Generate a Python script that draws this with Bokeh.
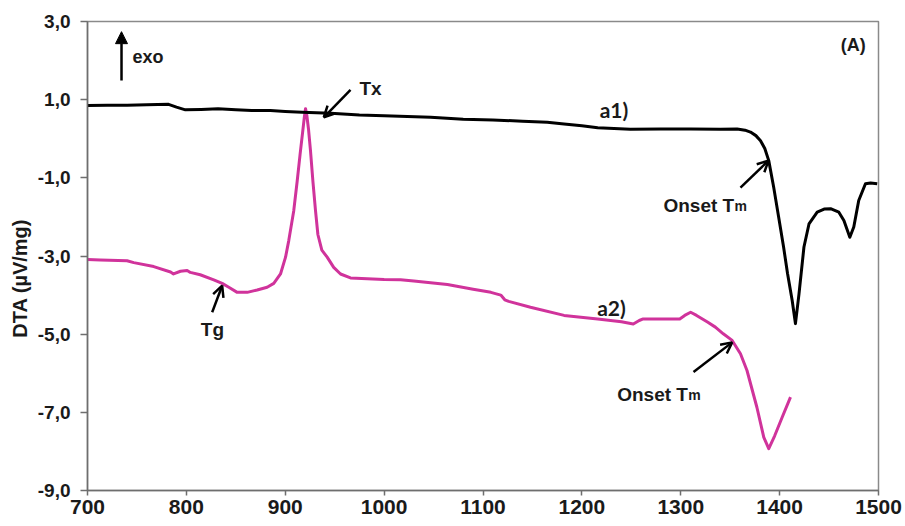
from bokeh.plotting import figure
from bokeh.models import Range1d, Label, Arrow, OpenHead, NormalHead, FixedTicker
from bokeh.embed import file_html
from bokeh.resources import INLINE

# ---- data ----
a1_T = [700, 720, 740, 760, 782, 790, 799, 815, 832, 850, 866, 885, 900, 917, 946,
        975, 1000, 1047, 1080, 1110, 1140, 1165, 1182, 1200, 1216, 1249, 1280, 1310,
        1340, 1357, 1365, 1370.5, 1376, 1380.7, 1385, 1389, 1394, 1399, 1404, 1408,
        1412.7, 1416, 1419.6, 1424.6, 1429.7, 1438, 1445, 1451.5, 1459.9, 1465, 1471,
        1475, 1480, 1486.8, 1492, 1498.7]
a1_v = [0.85, 0.86, 0.86, 0.87, 0.88, 0.81, 0.74, 0.75, 0.77, 0.74, 0.72, 0.72, 0.70, 0.68, 0.65,
        0.61, 0.59, 0.55, 0.50, 0.48, 0.45, 0.42, 0.38, 0.33, 0.28, 0.24, 0.25, 0.25,
        0.24, 0.25, 0.22, 0.17, 0.08, -0.05, -0.25, -0.56, -1.24, -2.0, -2.77, -3.45,
        -4.14, -4.73, -3.97, -2.77, -2.18, -1.88, -1.80, -1.79, -1.88, -2.09, -2.52,
        -2.26, -1.58, -1.15, -1.13, -1.15]

a2_T = [700, 713, 740, 746.8, 767, 784, 787, 794, 800.8, 804, 814, 827.7, 836.2, 842.9,
        851.4, 861.5, 871.6, 881.7, 888.4, 895.2, 900.3, 903.6, 908.6, 912, 915, 917.5,
        919.3, 920.5, 921.8, 923.5, 925.5, 928, 930.6, 933, 937, 942.4, 949, 955.9, 966,
        982.9, 1000, 1016.6, 1030, 1064, 1090, 1108, 1118, 1122, 1126, 1148, 1182, 1216,
        1240, 1252, 1258, 1262, 1299, 1304, 1310, 1316, 1327, 1335, 1343, 1352, 1360.4,
        1367, 1377, 1384, 1389, 1395, 1403, 1411]
a2_v = [-3.09, -3.10, -3.12, -3.17, -3.27, -3.41, -3.46, -3.39, -3.37, -3.42, -3.48, -3.61,
        -3.70, -3.80, -3.93, -3.93, -3.87, -3.80, -3.70, -3.46, -3.03, -2.60, -1.84, -1.10,
        -0.40, 0.15, 0.55, 0.77, 0.60, 0.25, -0.30, -1.10, -1.84, -2.45, -2.85, -3.03,
        -3.29, -3.46, -3.56, -3.58, -3.60, -3.61, -3.64, -3.73, -3.85, -3.93, -4.00, -4.12,
        -4.16, -4.31, -4.52, -4.61, -4.68, -4.74, -4.65, -4.61, -4.61, -4.52, -4.44, -4.52,
        -4.69, -4.82, -4.99, -5.16, -5.50, -5.93, -6.87, -7.64, -7.93, -7.60, -7.10, -6.61]

x_ticks = [700, 800, 900, 1000, 1100, 1200, 1300, 1400, 1500]
y_ticks = [-9, -7, -5, -3, -1, 1, 3]
y_tick_labels = ["-9,0", "-7,0", "-5,0", "-3,0", "-1,0", "1,0", "3,0"]

FONT = "Liberation Sans"

p = figure(output_backend="svg", toolbar_location=None,
           frame_width=791, frame_height=469,
           min_border_left=87, min_border_right=27, min_border_top=21, min_border_bottom=36,
           x_range=Range1d(700, 1500), y_range=Range1d(-9, 3))

p.background_fill_color = "white"
p.border_fill_color = "white"
p.outline_line_color = "#8a8a8a"
p.outline_line_width = 1.5
p.xgrid.visible = False
p.ygrid.visible = False

p.xaxis.ticker = FixedTicker(ticks=x_ticks)
p.yaxis.ticker = FixedTicker(ticks=y_ticks)
p.yaxis.major_label_overrides = {t: l for t, l in zip(y_ticks, y_tick_labels)}
for ax in (p.xaxis, p.yaxis):
    ax.axis_line_color = "#6e6e6e"
    ax.axis_line_width = 1.5
    ax.major_tick_line_color = "#6e6e6e"
    ax.major_tick_line_width = 1.5
    ax.major_tick_in = 0
    ax.minor_tick_line_color = None
    ax.major_label_text_font = FONT
    ax.major_label_text_font_style = "bold"
    ax.major_label_text_color = "#1a1a1a"
p.xaxis.major_tick_out = 5
p.yaxis.major_tick_out = 7
p.xaxis.major_label_text_font_size = "21px"
p.yaxis.major_label_text_font_size = "19px"
p.xaxis.major_label_standoff = 4
p.yaxis.major_label_standoff = 10

# y axis title (trailing no-break spaces shift it down like the reference)
p.yaxis.axis_label = "DTA (µV/mg)" + "\u00a0" * 8
p.yaxis.axis_label_text_font = FONT
p.yaxis.axis_label_text_font_style = "bold"
p.yaxis.axis_label_text_font_size = "20px"
p.yaxis.axis_label_text_color = "#1a1a1a"
p.yaxis.axis_label_standoff = 4

p.line(a2_T, a2_v, line_color="#D0339B", line_width=3, line_join="round")
p.line(a1_T, a1_v, line_color="black", line_width=3, line_join="round")


def lab(x, y, t, size="19px", align="left", baseline="middle", font=FONT, xo=0):
    p.add_layout(Label(x=x, y=y, text=t, text_align=align, text_baseline=baseline,
                       text_font=font, text_font_style="bold", text_font_size=size,
                       text_color="#1a1a1a", x_offset=xo))

lab(745.5, 2.09, "exo", size="18px")
lab(1487, 2.41, "(A)", size="18px", align="right")
lab(975, 1.29, "Tx")
lab(1218, 0.74, "a1)", size="21px", font="Lato")
lab(1215.5, -4.33, "a2)", size="21px", font="Lato")
lab(1282.5, -1.71, "Onset T", baseline="alphabetic")
lab(1282.5, -1.71, "m", size="14px", baseline="alphabetic", xo=71)
lab(1235.7, -6.55, "Onset T", baseline="alphabetic")
lab(1235.7, -6.55, "m", size="14px", baseline="alphabetic", xo=71)
lab(826.4, -4.88, "Tg", align="center")

def arr(x0, y0, x1, y1):
    p.add_layout(Arrow(x_start=x0, y_start=y0, x_end=x1, y_end=y1,
                       line_color="black", line_width=2.5,
                       end=OpenHead(size=11, line_color="black", line_width=2.5)))

arr(966, 1.25, 939, 0.55)
arr(1360.4, -1.25, 1388.7, -0.56)
arr(1312.9, -5.97, 1352, -5.21)
arr(826.1, -4.44, 836.2, -3.76)

p.add_layout(Arrow(x_start=734.4, y_start=1.49, x_end=734.4, y_end=2.74,
                   line_color="black", line_width=2.5,
                   end=NormalHead(size=12, fill_color="black", line_color="black")))

open("out.html", "w").write(file_html(p, INLINE))
